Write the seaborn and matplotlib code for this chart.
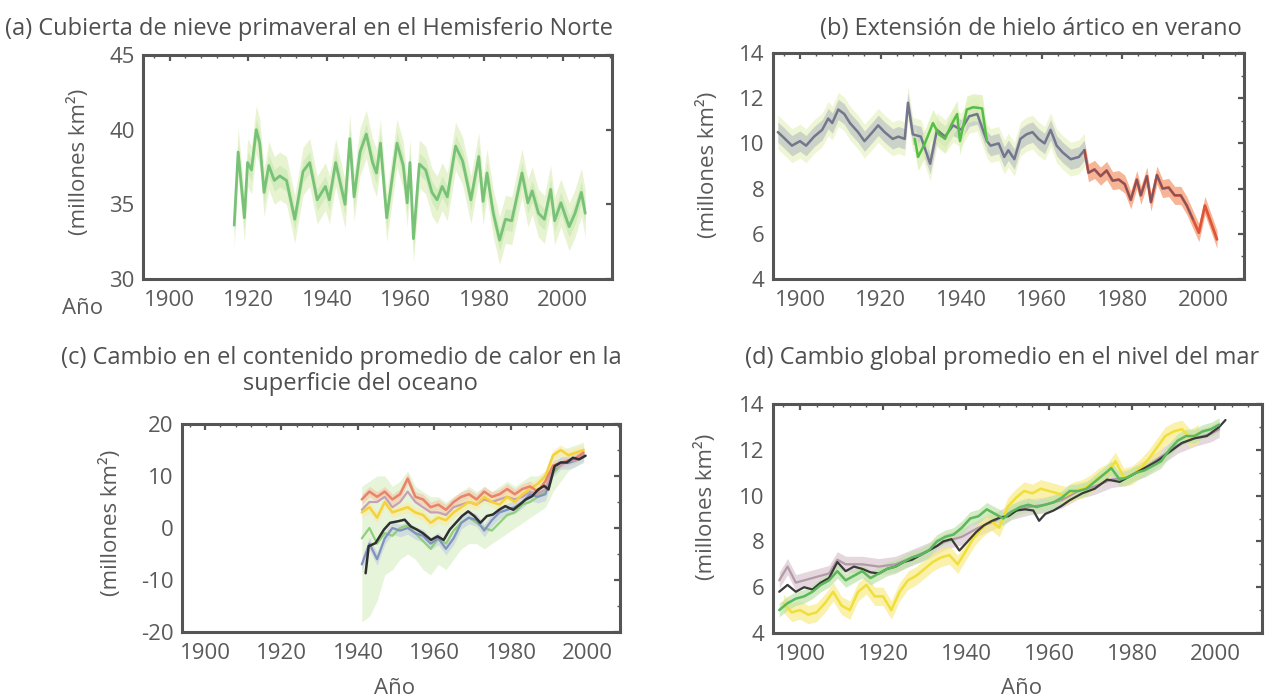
import matplotlib
matplotlib.use("Agg")
import matplotlib.pyplot as plt
import pandas as pd
import seaborn as sns
from matplotlib.ticker import MultipleLocator

# ---------------- data ----------------
# (a) spring snow cover, Northern Hemisphere
snow_year = [1916.4, 1917.4, 1919.0, 1919.8, 1920.8, 1922.0, 1922.9, 1924.0, 1925.2, 1926.6,
             1928.0, 1929.7, 1931.8, 1933.9, 1935.6, 1937.5, 1939.6, 1940.6, 1942.2, 1944.6,
             1945.8, 1946.9, 1948.4, 1950.0, 1951.6, 1952.6, 1953.6, 1955.2, 1957.8, 1959.4,
             1960.4, 1961.1, 1962.0, 1963.5, 1965.1, 1966.7, 1968.0, 1969.3, 1970.6, 1972.7,
             1974.5, 1976.6, 1978.6, 1979.7, 1980.7, 1982.3, 1983.9, 1985.4, 1987.0, 1989.6,
             1991.1, 1992.2, 1993.8, 1995.3, 1996.9, 1997.9, 1999.5, 2001.6, 2003.1, 2004.7,
             2005.7]
snow_cover = [33.6, 38.5, 34.1, 37.8, 37.3, 40.0, 39.1, 35.8, 37.6, 36.6,
              36.9, 36.6, 34.0, 37.2, 37.8, 35.3, 36.2, 35.3, 37.8, 35.0,
              39.4, 35.5, 38.5, 39.7, 37.8, 37.1, 39.1, 34.1, 39.1, 37.6,
              35.1, 37.8, 32.7, 37.7, 37.3, 35.8, 35.3, 36.2, 35.5, 38.9,
              37.9, 35.3, 38.2, 35.2, 37.1, 34.4, 32.6, 34.0, 33.9, 37.1,
              35.1, 35.9, 34.4, 34.0, 36.0, 33.9, 35.1, 33.5, 34.4, 35.8,
              34.4]
snow_spread = 1.6

# (b) summer Arctic sea-ice extent
ice_gray_year = [1894.5, 1896, 1898, 1900, 1901.5, 1903.5, 1905.5, 1907, 1908, 1909.5,
                 1911, 1912.4, 1914.4, 1916, 1918, 1919.4, 1921, 1923, 1924.4, 1926,
                 1926.8, 1928, 1930, 1932.3, 1934, 1936, 1938, 1940, 1942, 1944,
                 1946.4, 1947.3, 1949.3, 1950.7, 1951.7, 1953.2, 1954.7, 1956.2, 1957.7, 1959.2,
                 1960.7, 1962.2, 1963.7, 1965.2, 1967.2, 1969.2, 1970.6]
ice_gray = [10.5, 10.25, 9.9, 10.1, 9.9, 10.3, 10.6, 11.1, 10.9, 11.5,
            11.3, 10.9, 10.5, 10.1, 10.5, 10.8, 10.5, 10.2, 10.3, 10.2,
            11.8, 10.4, 10.3, 9.1, 10.6, 10.3, 10.8, 10.6, 11.2, 11.3,
            10.1, 9.9, 10.0, 9.4, 9.7, 9.3, 10.2, 10.4, 10.5, 10.2,
            10.0, 10.6, 9.9, 9.6, 9.3, 9.4, 9.7]
ice_green_year = [1928.5, 1929.3, 1931, 1933, 1934.5, 1936, 1937.5, 1939, 1939.7, 1941.4,
                  1943, 1945.2, 1946.4]
ice_green = [10.2, 9.4, 10.0, 10.9, 10.4, 10.2, 10.8, 11.3, 10.1, 11.5,
             11.6, 11.55, 10.1]
ice_red_year = [1970.6, 1971.6, 1973.1, 1974.6, 1976.1, 1977.6, 1979.1, 1980.6, 1982.1, 1983.6,
                1984.6, 1986.1, 1987.1, 1988.6, 1990, 1991.5, 1993, 1994.5, 1996, 1997.5,
                1999, 2000.5, 2002, 2003.5]
ice_red = [9.7, 8.7, 8.85, 8.55, 8.8, 8.35, 8.4, 8.2, 7.5, 8.4,
           7.7, 8.55, 7.4, 8.6, 8.0, 8.05, 7.7, 7.7, 7.25, 6.65,
           6.05, 7.25, 6.5, 5.75]

# (c) upper-ocean heat content change
heat_year = [1941, 1943, 1945, 1947, 1949, 1951, 1953, 1955, 1957, 1959,
             1961, 1963, 1965, 1967, 1969, 1971, 1973, 1975, 1977, 1979,
             1981, 1983, 1985, 1987, 1989, 1991, 1993, 1995, 1997, 1999]
heat_orange = [5.5, 7, 6, 7, 5.5, 6.5, 9.5, 6, 5.5, 4,
               4.5, 3.5, 5, 6, 6.5, 5.5, 7, 6, 6.5, 7.5,
               6.5, 7.5, 8, 7, 9, 12, 12.5, 13, 13.5, 14.5]
heat_mauve = [3.5, 5, 5, 6, 4, 5, 7, 5, 4, 3,
              3, 2.5, 4, 4.5, 5, 4.5, 5.5, 5, 5.5, 6,
              5.5, 6, 7, 6.5, 7.5, 11.5, 12, 13, 13, 14]
heat_yellow = [3, 4, 2, 5, 3, 3.5, 4, 3, 2.5, 1,
               2, 1.5, 3, 4, 5, 4.5, 6, 5, 4.5, 6,
               5, 6.5, 7.5, 8.5, 10, 14, 15, 14, 14.5, 15]
heat_green = [-2, 0, -3, -1, -1.5, 0, 0.5, -1, -2.5, -4,
              -2, -3, -0.5, 1, 2, 1, 0, -0.5, 1, 2.5,
              3, 4.5, 5, 6, 7, 10.5, 12, 13, 13.5, 14]
heat_blue = [-7, -3, -6, -2, 0, -0.5, 0, -1, -1.5, -3,
             -2, -4, -2, 1, 2, 1.5, -0.5, 1.5, 3, 3.5,
             4, 5, 6.5, 6, 6.5, 11, 12.5, 12.5, 13, 14]
heat_band_lo = [-18, -17, -14, -9, -8, -6, -5, -6, -8, -9,
                -7, -8, -6, -4, -3, -3, -4, -3, -2, -1,
                0, 1, 2, 3, 4, 7, 9, 11, 12, 12.5]
heat_band_hi = [8, 9, 10, 10, 8, 9, 11, 8, 7, 6,
                6, 5, 6, 7, 8, 7, 8, 7, 8, 9,
                8, 9, 10, 10, 11, 14, 15, 15.5, 16, 16.5]
heat_black_year = [1942, 1942.8, 1944.6, 1946.8, 1948.4, 1950.5, 1952.2, 1953.8, 1955.4, 1957,
                   1959.1, 1960.8, 1962.4, 1964, 1965.6, 1967.2, 1968.8, 1970.4, 1972, 1973.7,
                   1975.3, 1976.9, 1978.5, 1980.6, 1982.3, 1983.9, 1985.5, 1987.1, 1988.7, 1989.8,
                   1991.4, 1993, 1994.6, 1996.2, 1997.8, 1999.5]
heat_black = [-8.7, -3.5, -2.9, -0.3, 1.0, 1.3, 1.6, 0.3, -0.3, -1.0,
              -2.3, -1.6, -2.3, -0.3, 1.0, 2.3, 3.2, 2.3, 1.0, 2.3,
              2.6, 3.5, 4.2, 3.5, 4.5, 5.5, 6.1, 7.4, 8.1, 7.4,
              11.9, 12.6, 12.6, 13.5, 13.2, 13.9]

# (d) global mean sea-level change
sea_black_year = [1895, 1897, 1899, 1901, 1903, 1905, 1907, 1909, 1911, 1913,
                  1915, 1917, 1919, 1921, 1923, 1925, 1927, 1929, 1931, 1933,
                  1934.5, 1936.5, 1938.4, 1940.4, 1942.4, 1944.3, 1946.3, 1948.3, 1950.2, 1952.2,
                  1954.2, 1956.2, 1957.6, 1959.1, 1961.1, 1963, 1965, 1968, 1971, 1974,
                  1977, 1980, 1983, 1986, 1989, 1992, 1995, 1998, 2001, 2002.5]
sea_black = [5.8, 6.1, 5.8, 6.0, 5.9, 6.2, 6.4, 7.1, 6.7, 6.9,
             6.8, 6.65, 6.6, 6.8, 6.9, 7.1, 7.2, 7.4, 7.6, 7.8,
             8.0, 8.1, 7.6, 8.0, 8.4, 8.7, 8.9, 9.05, 9.1, 9.35,
             9.4, 9.35, 8.9, 9.2, 9.35, 9.55, 9.8, 10.1, 10.3, 10.7,
             10.6, 10.9, 11.2, 11.5, 11.9, 12.3, 12.5, 12.6, 13.0, 13.3]
sea_green_year = [1895, 1897, 1899, 1901, 1903, 1905, 1907, 1909, 1911, 1913,
                  1915, 1917, 1919, 1921, 1923, 1925, 1927, 1929, 1931, 1933,
                  1935, 1937, 1939, 1941, 1943, 1945, 1947, 1949, 1951, 1953,
                  1955, 1957, 1959, 1961, 1963, 1965, 1967, 1969, 1971, 1973,
                  1975, 1977, 1979, 1981, 1983, 1985, 1987, 1989, 1991, 1993,
                  1995, 1997, 1999, 2001]
sea_green = [5.0, 5.3, 5.5, 5.6, 5.8, 6.1, 6.3, 6.7, 6.3, 6.5,
             6.7, 6.4, 6.6, 6.8, 6.9, 7.1, 7.3, 7.4, 7.6, 8.0,
             8.2, 8.3, 8.6, 9.0, 9.1, 9.4, 9.2, 9.0, 9.3, 9.5,
             9.6, 9.5, 9.6, 9.7, 9.9, 10.2, 10.2, 10.3, 10.6, 10.9,
             11.2, 10.7, 10.8, 11.0, 11.1, 11.3, 11.5, 12.0, 12.4, 12.6,
             12.6, 12.8, 12.9, 13.1]
sea_yellow_year = [1896, 1898, 1900, 1902, 1904, 1906, 1908, 1910, 1912, 1914,
                   1916, 1918, 1920, 1922, 1924, 1926, 1928, 1930, 1932, 1934,
                   1936, 1938, 1940, 1942, 1944, 1946, 1948, 1950, 1952, 1954,
                   1956, 1958, 1960, 1962, 1964, 1966, 1968, 1970, 1972, 1974,
                   1976, 1978, 1980, 1982, 1984, 1986, 1988, 1990, 1992, 1994,
                   1996]
sea_yellow = [5.3, 4.9, 5.0, 4.8, 4.9, 5.3, 5.8, 5.2, 5.0, 5.8,
              6.1, 5.6, 5.6, 5.0, 5.8, 6.3, 6.5, 6.8, 7.1, 7.3,
              7.4, 7.0, 7.6, 8.2, 8.6, 8.9, 8.6, 9.5, 9.9, 10.2,
              10.1, 10.3, 10.2, 10.1, 10.0, 10.2, 10.3, 10.5, 10.8, 11.0,
              11.5, 10.8, 10.9, 11.2, 11.6, 12.1, 12.6, 12.8, 12.9, 12.5,
              12.7]
sea_mauve_year = [1895, 1897, 1899, 1903, 1907, 1909, 1911, 1915, 1919, 1923,
                  1927, 1931, 1935, 1939, 1943, 1947, 1951, 1955, 1959, 1963,
                  1967, 1971, 1975, 1979, 1983, 1987, 1991, 1995, 1999, 2001]
sea_mauve = [6.3, 6.9, 6.2, 6.4, 6.6, 7.2, 7.0, 7.0, 6.9, 7.0,
             7.3, 7.6, 8.0, 8.2, 8.6, 8.9, 9.3, 9.5, 9.6, 9.8,
             10.2, 10.4, 10.7, 10.8, 11.2, 11.7, 12.2, 12.5, 12.7, 12.9]

# ---------------- texts ----------------
title_a = "(a) Cubierta de nieve primaveral en el Hemisferio Norte"
title_b = "(b) Extensión de hielo ártico en verano"
title_c1 = "(c) Cambio en el contenido promedio de calor en la"
title_c2 = "superficie del oceano"
title_d = "(d) Cambio global promedio en el nivel del mar"
y_label = "(millones km²)"
x_label = "Año"
year_ticks = [1900, 1920, 1940, 1960, 1980, 2000]

# ---------------- style ----------------
sns.set_theme(style="white")
plt.rcParams["font.family"] = ["Open Sans", "DejaVu Sans"]
plt.rcParams["axes.unicode_minus"] = False
TXT = "#4f4f4f"
TICK_TXT = "#5a5a5a"
SPINE = "#555555"

W, H = 1267, 698
fig = plt.figure(figsize=(W / 100, H / 100), dpi=100)
fig.patch.set_facecolor("white")


def px_axes(left, top, right, bottom):
    return fig.add_axes([left / W, 1 - bottom / H, (right - left) / W, (bottom - top) / H])


def style_axes(ax, xlim, ylim, ystep, yminor):
    ax.set_xlim(*xlim)
    ax.set_ylim(*ylim)
    ax.set_xticks(year_ticks)
    ax.xaxis.set_minor_locator(MultipleLocator(4))
    ax.yaxis.set_major_locator(MultipleLocator(ystep))
    ax.yaxis.set_minor_locator(MultipleLocator(yminor))
    for s in ax.spines.values():
        s.set_visible(True)
        s.set_color(SPINE)
        s.set_linewidth(2.2)
    ax.tick_params(which="both", direction="in", top=True, right=True,
                   colors=SPINE, labelcolor=TICK_TXT, labelsize=16)
    ax.tick_params(which="major", length=4, width=1.6)
    ax.tick_params(which="minor", length=2, width=1.0)
    ax.tick_params(axis="x", pad=8)
    ax.tick_params(axis="y", pad=6)
    ax.set_xlabel("")
    ax.set_ylabel("")
    ax.set_facecolor("white")


def line(ax, xs, ys, color, lw=1.8, alpha=1.0):
    df = pd.DataFrame({"x": xs, "y": ys})
    sns.lineplot(data=df, x="x", y="y", ax=ax, color=color, lw=lw, alpha=alpha,
                 estimator=None, sort=False, legend=False)


def band(ax, xs, ys, spread, color, alpha):
    lo = [v - spread for v in ys]
    hi = [v + spread for v in ys]
    ax.fill_between(xs, lo, hi, color=color, alpha=alpha, lw=0)


# ---------------- (a) ----------------
ax_a = px_axes(143, 55, 612, 279)
band(ax_a, snow_year, snow_cover, snow_spread, "#e6f3cc", 0.9)
band(ax_a, snow_year, snow_cover, snow_spread * 0.45, "#cdeab8", 0.8)
line(ax_a, snow_year, snow_cover, "#78c278", lw=2.0)
style_axes(ax_a, (1893.2, 2012.5), (30, 45), 5, 5)

# ---------------- (b) ----------------
ax_b = px_axes(773, 53, 1244, 279)
band(ax_b, ice_gray_year, ice_gray, 0.75, "#eef5d2", 0.9)
band(ax_b, ice_gray_year, ice_gray, 0.45, "#bfc7c2", 0.75)
band(ax_b, ice_green_year, ice_green, 0.6, "#dcf0b8", 0.8)
band(ax_b, ice_red_year, ice_red, 0.4, "#f4a37c", 0.8)
line(ax_b, ice_gray_year, ice_gray, "#74768e", lw=1.8)
line(ax_b, ice_green_year, ice_green, "#55bf45", lw=1.8)
line(ax_b, ice_red_year, ice_red, "#e0553a", lw=2.0)
line(ax_b, ice_red_year[:20], ice_red[:20], "#5b5670", lw=1.3, alpha=0.75)
style_axes(ax_b, (1893.3, 2010.2), (4, 14), 2, 1)

# ---------------- (c) ----------------
ax_c = px_axes(182, 424, 620, 632)
ax_c.fill_between(heat_year, heat_band_lo, heat_band_hi, color="#e2f3d3", alpha=0.85, lw=0)
band(ax_c, heat_year, heat_orange, 1.0, "#f7c3a8", 0.6)
band(ax_c, heat_year, heat_yellow, 1.0, "#fbeaa0", 0.6)
band(ax_c, heat_year, heat_blue, 1.2, "#c4cde3", 0.6)
line(ax_c, heat_year, heat_green, "#8fd07a", lw=1.6)
line(ax_c, heat_year, heat_blue, "#7f93bd", lw=1.6)
line(ax_c, heat_year, heat_mauve, "#c6a0b4", lw=1.6)
line(ax_c, heat_year, heat_yellow, "#f3d23c", lw=1.8)
line(ax_c, heat_year, heat_orange, "#e8846a", lw=1.8)
line(ax_c, heat_black_year, heat_black, "#2f2f2f", lw=1.8)
style_axes(ax_c, (1894, 2008.5), (-20, 20), 10, 5)

# ---------------- (d) ----------------
ax_d = px_axes(773, 404, 1262, 633)
band(ax_d, sea_mauve_year, sea_mauve, 0.35, "#d9c6cf", 0.7)
band(ax_d, sea_yellow_year, sea_yellow, 0.4, "#f8ec8a", 0.7)
band(ax_d, sea_green_year, sea_green, 0.3, "#bfe3a8", 0.7)
line(ax_d, sea_mauve_year, sea_mauve, "#b49aa8", lw=1.6)
line(ax_d, sea_yellow_year, sea_yellow, "#f0df3a", lw=1.8)
line(ax_d, sea_black_year, sea_black, "#3a3a3a", lw=1.6)
line(ax_d, sea_green_year, sea_green, "#5cb85c", lw=1.8)
style_axes(ax_d, (1893.5, 2011.3), (4, 14), 2, 1)

# ---------------- texts ----------------
def ftext(x, y, s, **kw):
    kw.setdefault("color", TXT)
    kw.setdefault("fontsize", 17)
    fig.text(x / W, 1 - y / H, s, **kw)


ftext(5, 35, title_a, ha="left", va="baseline")
ftext(1242, 35, title_b, ha="right", va="baseline")
ftext(622, 364, title_c1, ha="right", va="baseline")
ftext(360, 390, title_c2, ha="center", va="baseline")
ftext(745, 364, title_d, ha="left", va="baseline")

for (x, y) in [(79, 162), (708, 165), (111, 523), (706, 507)]:
    ftext(x, y, y_label, ha="center", va="center", rotation=90, fontsize=16, color=TICK_TXT)

ftext(83, 308, x_label, ha="center", va="center", fontsize=16, color=TICK_TXT)
ftext(395, 688, x_label, ha="center", va="center", fontsize=16, color=TICK_TXT)
ftext(1022, 688, x_label, ha="center", va="center", fontsize=16, color=TICK_TXT)

fig.savefig("out.png", dpi=100, facecolor="white")
